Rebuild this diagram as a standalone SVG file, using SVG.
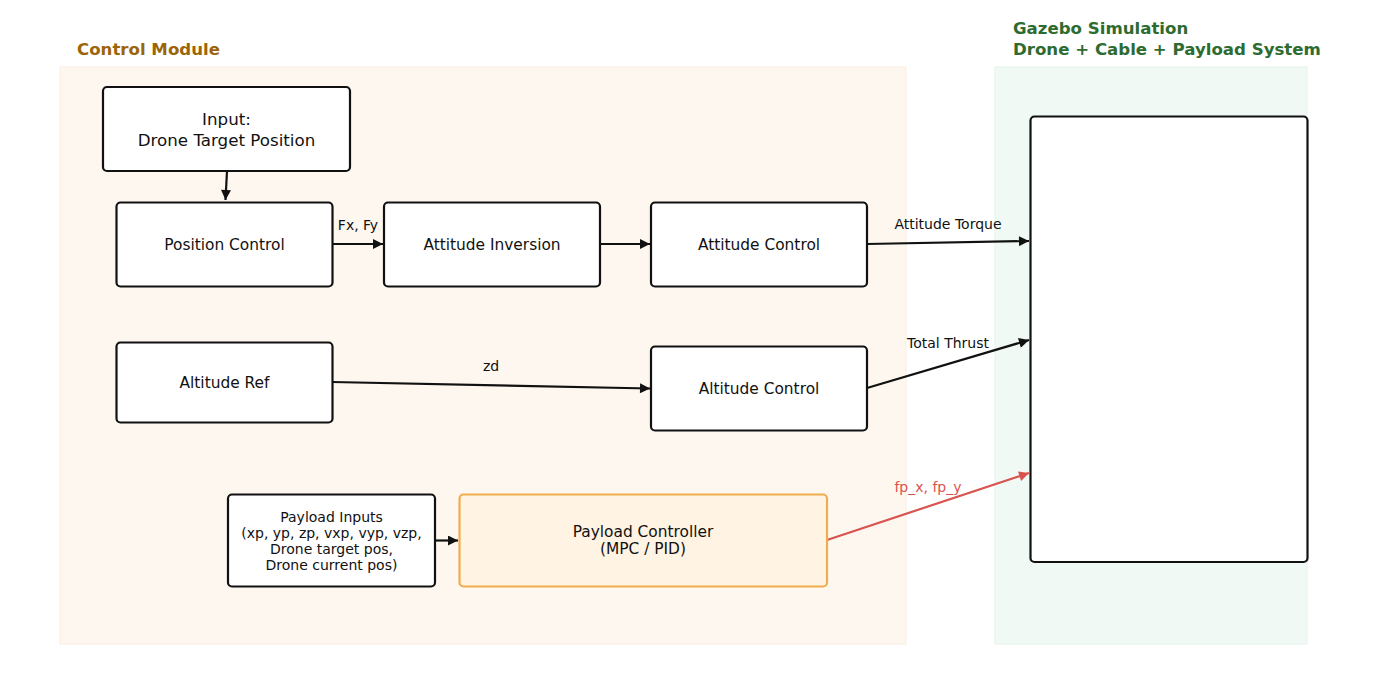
<svg xmlns="http://www.w3.org/2000/svg" width="1400" height="700" viewBox="0 0 1400 700">
<defs>
<style>
text{font-family:"DejaVu Sans","Liberation Sans",sans-serif;dominant-baseline:central;text-anchor:middle;fill:#111}
.title{font-weight:bold;font-size:16.6px;text-anchor:start}
.node rect{fill:#fff;stroke:#111;stroke-width:2.2}
.nt{font-size:15.4px}
.lbl{font-size:14px}
.pi{font-size:14px}
.edge{fill:none;stroke:#111;stroke-width:2.2}
.red{stroke:#d9534f}
</style>
<marker id="ah" viewBox="0 0 10 10" refX="10" refY="5" markerWidth="11" markerHeight="10" markerUnits="userSpaceOnUse" orient="auto"><path d="M0,0 L10,5 L0,10 Z" fill="#111"/></marker>
<marker id="ahr" viewBox="0 0 10 10" refX="10" refY="5" markerWidth="11" markerHeight="10" markerUnits="userSpaceOnUse" orient="auto"><path d="M0,0 L10,5 L0,10 Z" fill="#d9534f"/></marker>
</defs>
<rect width="1400" height="700" fill="#fff"/>
<g id="control-module">
<rect x="60" y="67" width="846" height="577" fill="#fdf7f0" stroke="#fbeee0" stroke-width="1"/>
<text class="title" x="77" y="49" style="fill:#9c6508">Control Module</text>
</g>
<g id="gazebo-area">
<rect x="995" y="67" width="312" height="577" fill="#f0f9f4" stroke="#e4f3ea" stroke-width="1"/>
<text class="title" x="1013" y="28" style="fill:#2e6b30">Gazebo Simulation</text>
<text class="title" x="1013" y="49" style="fill:#2e6b30">Drone + Cable + Payload System</text>
</g>
<g id="connectors">
<line class="edge" x1="227" y1="171" x2="225.5" y2="200" marker-end="url(#ah)"/>
<line class="edge" x1="332" y1="244" x2="383" y2="244" marker-end="url(#ah)"/>
<text class="lbl" x="358" y="225">Fx, Fy</text>
<line class="edge" x1="600" y1="244" x2="650" y2="244" marker-end="url(#ah)"/>
<line class="edge" x1="867" y1="244" x2="1029" y2="241" marker-end="url(#ah)"/>
<text class="lbl" x="948" y="224">Attitude Torque</text>
<line class="edge" x1="332" y1="382" x2="650" y2="388.5" marker-end="url(#ah)"/>
<text class="lbl" x="491" y="366">zd</text>
<line class="edge" x1="867" y1="388" x2="1029" y2="340" marker-end="url(#ah)"/>
<text class="lbl" x="948" y="343">Total Thrust</text>
<line class="edge" x1="435" y1="540.5" x2="458" y2="540.5" marker-end="url(#ah)"/>
<line class="edge red" x1="827" y1="540" x2="1029" y2="473" marker-end="url(#ahr)"/>
<text class="lbl" x="928" y="487" style="fill:#d9534f">fp_x, fp_y</text>
</g>
<g id="input" class="node">
<rect x="103" y="87" width="247" height="84" rx="4"/>
<text x="226.5" y="119" style="font-size:16.7px">Input:</text>
<text x="226.5" y="140" style="font-size:16.7px">Drone Target Position</text>
</g>
<g id="position-control" class="node">
<rect x="116.5" y="202.5" width="216" height="84" rx="4"/>
<text class="nt" x="224.5" y="244.5">Position Control</text>
</g>
<g id="attitude-inversion" class="node">
<rect x="384" y="202.5" width="216" height="84" rx="4"/>
<text class="nt" x="492" y="244.5">Attitude Inversion</text>
</g>
<g id="attitude-control" class="node">
<rect x="651" y="202.5" width="216" height="84" rx="4"/>
<text class="nt" x="759" y="244.5">Attitude Control</text>
</g>
<g id="altitude-ref" class="node">
<rect x="116.5" y="342.5" width="216" height="80" rx="4"/>
<text class="nt" x="224.5" y="382.5">Altitude Ref</text>
</g>
<g id="altitude-control" class="node">
<rect x="651" y="346.5" width="216" height="84" rx="4"/>
<text class="nt" x="759" y="388.5">Altitude Control</text>
</g>
<g id="payload-inputs" class="node">
<rect x="228" y="494.5" width="207" height="92" rx="4"/>
<text class="pi" x="331.5" y="517">Payload Inputs</text>
<text class="pi" x="331.5" y="533">(xp, yp, zp, vxp, vyp, vzp,</text>
<text class="pi" x="331.5" y="549">Drone target pos,</text>
<text class="pi" x="331.5" y="565">Drone current pos)</text>
</g>
<g id="payload-controller" class="node">
<rect x="459.5" y="494.5" width="367.5" height="92" rx="4" style="fill:#fff3e3;stroke:#f0ad4e"/>
<text class="nt" x="643" y="532">Payload Controller</text>
<text class="nt" x="643" y="549">(MPC / PID)</text>
</g>
<g id="gazebo-system" class="node">
<rect x="1030.5" y="116.5" width="277" height="445.5" rx="4"/>
</g>
</svg>
